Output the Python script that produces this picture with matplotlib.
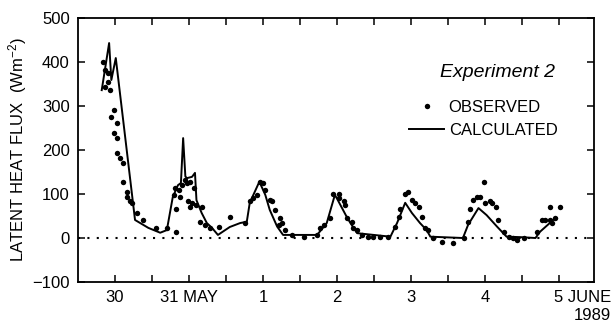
import matplotlib
matplotlib.use("Agg")
import matplotlib.pyplot as plt
import matplotlib.transforms as mtransforms
from matplotlib.lines import Line2D

plt.rcParams['font.family'] = ['Liberation Sans', 'DejaVu Sans']
plt.rcParams['mathtext.default'] = 'regular'

# time in days since 30 May 1989 00:00
obs_t = [-0.16, -0.14, -0.14, -0.09, -0.09, -0.07, -0.02, -0.05, 0.02, -0.02, 0.02, 0.02,
         0.07, 0.11, 0.11, 0.16, 0.16, 0.20, 0.23, 0.29, 0.38, 0.56, 0.70, 0.82, 0.82, 0.79,
         0.81, 0.86, 0.88, 0.90, 0.95, 0.97, 1.01, 1.06, 0.99, 1.01, 1.04, 1.10, 1.17, 1.15,
         1.22, 1.28, 1.40, 1.55, 1.76, 1.82, 1.87, 1.92, 1.96, 2.00, 2.03, 2.09, 2.12, 2.16,
         2.21, 2.23, 2.25, 2.30, 2.39, 2.55, 2.73, 2.77, 2.82, 2.91, 2.95, 3.02, 3.02, 3.09,
         3.11, 3.13, 3.20, 3.22, 3.27, 3.33, 3.42, 3.49, 3.58, 3.69, 3.78, 3.83, 3.85, 3.92,
         3.96, 4.01, 4.05, 4.10, 4.15, 4.19, 4.23, 4.30, 4.42, 4.57, 4.71, 4.77, 4.80, 4.84,
         4.89, 4.93, 4.98, 5.00, 5.07, 5.09, 5.14, 5.18, 5.25, 5.32, 5.38, 5.43, 5.52, 5.70,
         5.77, 5.81, 5.88, 5.90, 5.95, 5.88, 6.01]
obs_le = [401, 382, 344, 374, 355, 336, 291, 276, 261, 238, 227, 193,
          181, 170, 128, 105, 94, 83, 79, 56, 41, 22, 22, 14, 67, 98,
          113, 109, 94, 120, 132, 124, 128, 113, 83, 71, 79, 75, 71, 37,
          30, 22, 26, 48, 33, 83, 90, 98, 128, 124, 109, 86, 83, 64,
          30, 45, 33, 18, 7, 3, 7, 22, 30, 45, 101, 101, 90, 83,
          75, 45, 37, 22, 18, 7, 3, 3, 3, 3, 26, 48, 67, 101,
          105, 86, 79, 71, 48, 22, 18, -1, -8, -12, -1, 37, 67, 86,
          94, 94, 128, 79, 83, 79, 71, 41, 14, 3, -1, -5, 0, 14,
          41, 41, 41, 33, 45, 71, 71]

calc_t = [-0.18, -0.08, -0.05, 0.01, 0.27, 0.45, 0.61, 0.70, 0.78, 0.85, 0.89, 0.92,
          0.95, 0.97, 1.04, 1.08, 1.10, 1.17, 1.24, 1.31, 1.39, 1.55, 1.69, 1.78, 1.82,
          1.95, 2.03, 2.09, 2.19, 2.27, 2.73, 2.86, 2.97, 3.01, 3.13, 3.18, 3.27, 3.72,
          3.81, 3.92, 4.01, 4.12, 4.21, 4.26, 4.70, 4.77, 4.91, 5.02, 5.16, 5.29, 5.47,
          5.68, 5.74, 5.92, 5.97]
calc_le = [336, 443, 359, 409, 41, 23, 12, 18, 93, 120, 125, 227,
           140, 136, 139, 148, 86, 57, 34, 23, 7, 25, 34, 37, 80,
           128, 98, 64, 26, 7, 7, 34, 98, 86, 48, 34, 11, 3,
           34, 80, 57, 34, 18, 3, 0, 30, 68, 52, 26, 3, 2,
           0, 14, 41, 45]

day_ticks = [0, 1, 2, 3, 4, 5, 6]
day_labels = ['30', '31 MAY', '1', '2', '3', '4', '5 JUNE\n1989']

fig = plt.figure(figsize=(6.12, 3.28), dpi=100)
ax = fig.add_axes([0.1275, 0.1402, 0.843, 0.805])

ax.axhline(0, color='black', lw=1.5, ls=(0, (1, 3.5)))
ax.plot(calc_t, calc_le, color='black', lw=1.4)
ax.plot(obs_t, obs_le, 'o', color='black', ms=3.9, mec='none')

ax.set_xlim(-0.5, 6.47)
ax.set_ylim(-100, 500)
ax.set_xticks(day_ticks)
ax.set_xticklabels(day_labels, fontsize=12)
ax.set_xticks([d + 0.5 for d in day_ticks[:-1]], minor=True)
ax.set_yticks(range(-100, 501, 100))
ax.tick_params(axis='y', labelsize=12)
ax.tick_params(which='both', direction='in', top=True, right=True,
               length=5, width=1.1, pad=6)

last = ax.get_xticklabels()[-1]
last.set_ha('left')
last.set_multialignment('right')
last.set_transform(last.get_transform() +
                   mtransforms.ScaledTranslation(-4 / 72, 0, fig.dpi_scale_trans))

for s in ax.spines.values():
    s.set_linewidth(1.3)

ax.set_ylabel('LATENT HEAT FLUX  (Wm$^{-2}$)', fontsize=12, labelpad=2)

# legend: title as plain text, entries via legend
ax.text(0.924, 0.792, 'Experiment 2', transform=ax.transAxes, fontsize=14,
        fontstyle='italic', ha='right', va='center')
handles = [Line2D([], [], ls='none', marker='o', ms=3.9, color='black', mec='none'),
           Line2D([], [], color='black', lw=1.4)]
ax.legend(handles, ['OBSERVED', 'CALCULATED'],
          loc='upper right', bbox_to_anchor=(0.955, 0.74), frameon=False,
          fontsize=12, handlelength=2.1, handletextpad=0.25,
          labelspacing=0.5, borderpad=0.3)

fig.savefig('out.png', dpi=100)
